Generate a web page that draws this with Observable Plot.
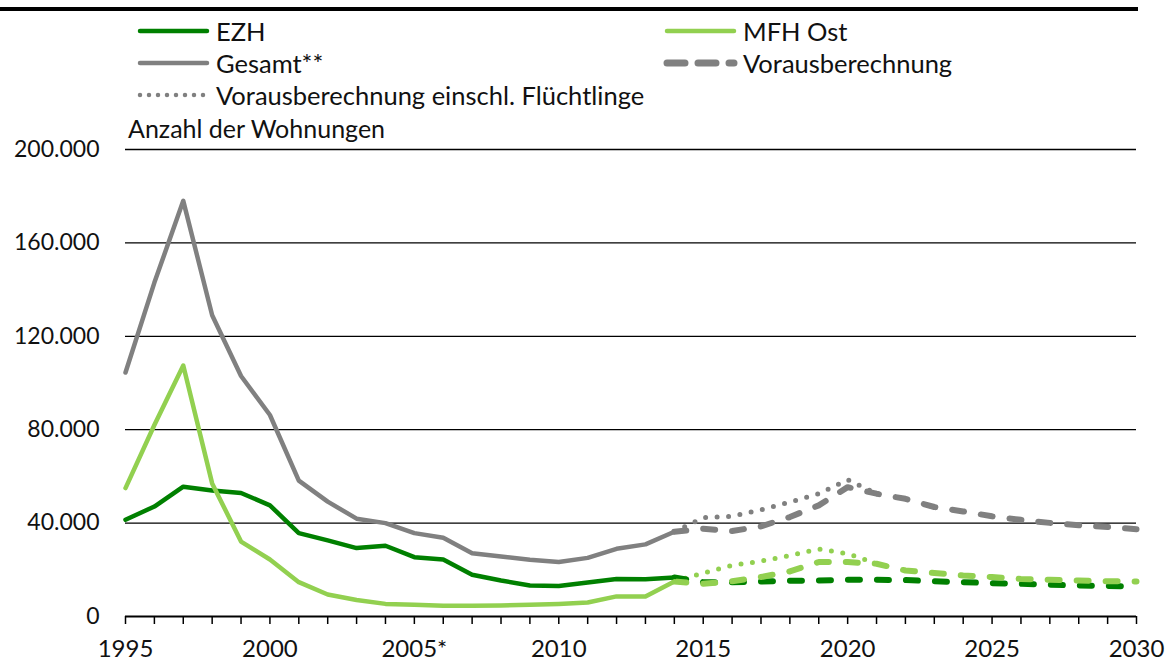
<!DOCTYPE html>
<html><head><meta charset="utf-8">
<script src="https://cdn.jsdelivr.net/npm/d3@7"></script>
<script src="https://cdn.jsdelivr.net/npm/@observablehq/plot@0.6"></script>
<style>
body{margin:0;background:#fff;font-family:Lato,"Noto Sans",sans-serif;}
#wrap{position:relative;width:1168px;height:663px;overflow:hidden;}
#topbar{position:absolute;left:0;top:7px;width:1138px;height:4px;background:#000;}
#legend{position:relative;height:140px;}
.li{position:absolute;height:30px;display:flex;align-items:center;font-size:25.5px;color:#111;white-space:nowrap;}
.li svg{margin-right:5px;}
#ylab{position:absolute;left:128px;top:113px;font-size:25px;color:#111;}
</style></head>
<body><div id="wrap"><div id="topbar"></div><div id="legend"></div><div id="chart"></div></div>
<script>
const years = d3.range(1995, 2015);
const ezh    = [41400,47100,55600,54000,52900,47600,35700,32600,29300,30300,25400,24400,17900,15400,13300,13100,14600,16100,16000,16700];
const mfhOst = [55000,82000,107500,57000,32100,24400,14700,9400,7100,5400,5000,4600,4600,4700,5000,5400,6000,8600,8600,15000];
const gesamt = [104500,143000,178000,129000,103000,86300,58200,49200,41900,40000,35700,33700,27100,25700,24300,23300,25100,29000,30900,36300];

const projYears = d3.range(2014, 2031);
const ezhProj    = [16700,14700,14700,15000,15300,15400,15700,15700,15600,15100,14700,14300,14000,13600,13300,13100,12900];
const mfhProj    = [15000,14000,15100,16900,19300,23300,23300,22600,19700,18600,17600,16900,16100,15700,15400,15100,15000];
const gesamtProj = [36300,37600,36600,38600,42600,47600,55400,52600,50400,46900,45000,42900,41400,40100,39100,38300,37400];

const refYears = d3.range(2014, 2022);
const mfhRef    = [15000,18600,21900,23700,26100,28900,26900,22600];
const gesamtRef = [36300,42300,42900,45700,49000,52600,58600,52600];

const yTicks = [0, 40000, 80000, 120000, 160000, 200000];
const xLabelYears = [1995, 2000, 2005, 2010, 2015, 2020, 2025, 2030];
const xLabelText  = ["1995", "2000", "2005*", "2010", "2015", "2020", "2025", "2030"];

const legendItems = [
  {label:"EZH", color:"#008000", kind:"solid", col:0, row:0},
  {label:"MFH Ost", color:"#92d050", kind:"solid", col:1, row:0},
  {label:"Gesamt**", color:"#808080", kind:"solid", col:0, row:1},
  {label:"Vorausberechnung", color:"#808080", kind:"dash", col:1, row:1},
  {label:"Vorausberechnung einschl. Flüchtlinge", color:"#808080", kind:"dot", col:0, row:2}
];

const green = "#008000", light = "#92d050", gray = "#808080";
const dashPat = "12,17", dotPat = "0,11.5";

// Legend
const lg = document.getElementById("legend");
legendItems.forEach(it => {
  const d = document.createElement("div");
  d.className = "li";
  d.style.left = (it.col === 0 ? 136 : 663) + "px";
  d.style.top = (16 + it.row * 32) + "px";
  const dash = it.kind === "dash" ? `stroke-dasharray="18,13"` : it.kind === "dot" ? `stroke-dasharray="0,9"` : "";
  const w = it.kind === "solid" ? 4.5 : it.kind === "dash" ? 7 : 4.5;
  d.innerHTML = `<svg width="75" height="14"><line x1="4" x2="71" y1="7" y2="7" stroke="${it.color}" stroke-width="${w}" stroke-linecap="round" ${dash}/></svg><span>${it.label}</span>`;
  lg.appendChild(d);
});
const yl = document.createElement("div");
yl.id = "ylab"; yl.textContent = "Anzahl der Wohnungen";
lg.appendChild(yl);

const de = d3.formatLocale({decimal:",", thousands:".", grouping:[3], currency:["","€"]});
const fmt = de.format(",");

const hist = years.map((y,i)=>({year:y, ezh:ezh[i], mfh:mfhOst[i], ges:gesamt[i]}));
const proj = projYears.map((y,i)=>({year:y, ezh:ezhProj[i], mfh:mfhProj[i], ges:gesamtProj[i]}));
const ref = refYears.map((y,i)=>({year:y, mfh:mfhRef[i], ges:gesamtRef[i]}));

const chart = Plot.plot({
  width:1168, height:523,
  marginTop:9, marginLeft:125, marginRight:32, marginBottom:47,
  x:{domain:[1995,2030]},
  y:{domain:[0,200000]},
  style:{fontFamily:"Lato, sans-serif", fontSize:"23px", color:"#111", background:"white", overflow:"visible"},
  marks:[
    Plot.ruleY(yTicks.filter(d=>d>0), {stroke:"black", strokeWidth:1.3}),
    Plot.axisY({ticks:yTicks, tickSize:0, tickPadding:26, tickFormat:fmt, fontSize:23, label:null}),
    Plot.axisX({ticks:d3.range(1995,2031), tickSize:8, tickPadding:15, stroke:"black", strokeWidth:1.5,
      tickFormat:d => { const k = xLabelYears.indexOf(d); return k>=0 ? xLabelText[k] : ""; }, fontSize:24, label:null}),
    Plot.ruleY([0], {stroke:"black", strokeWidth:2}),
    Plot.lineY(ref, {x:"year", y:"ges", stroke:gray, strokeWidth:5, strokeDasharray:dotPat, strokeLinecap:"round"}),
    Plot.lineY(ref, {x:"year", y:"mfh", stroke:light, strokeWidth:5, strokeDasharray:dotPat, strokeLinecap:"round"}),
    Plot.lineY(proj, {x:"year", y:"ges", stroke:gray, strokeWidth:6, strokeDasharray:dashPat, strokeLinecap:"round"}),
    Plot.lineY(proj, {x:"year", y:"ezh", stroke:green, strokeWidth:6, strokeDasharray:dashPat, strokeLinecap:"round"}),
    Plot.lineY(proj, {x:"year", y:"mfh", stroke:light, strokeWidth:6, strokeDasharray:dashPat, strokeLinecap:"round"}),
    Plot.lineY(hist, {x:"year", y:"ges", stroke:gray, strokeWidth:4.5, strokeLinejoin:"round"}),
    Plot.lineY(hist, {x:"year", y:"ezh", stroke:green, strokeWidth:4.5, strokeLinejoin:"round"}),
    Plot.lineY(hist, {x:"year", y:"mfh", stroke:light, strokeWidth:4.5, strokeLinejoin:"round"})
  ]
});
document.getElementById("chart").appendChild(chart);
</script></body></html>
